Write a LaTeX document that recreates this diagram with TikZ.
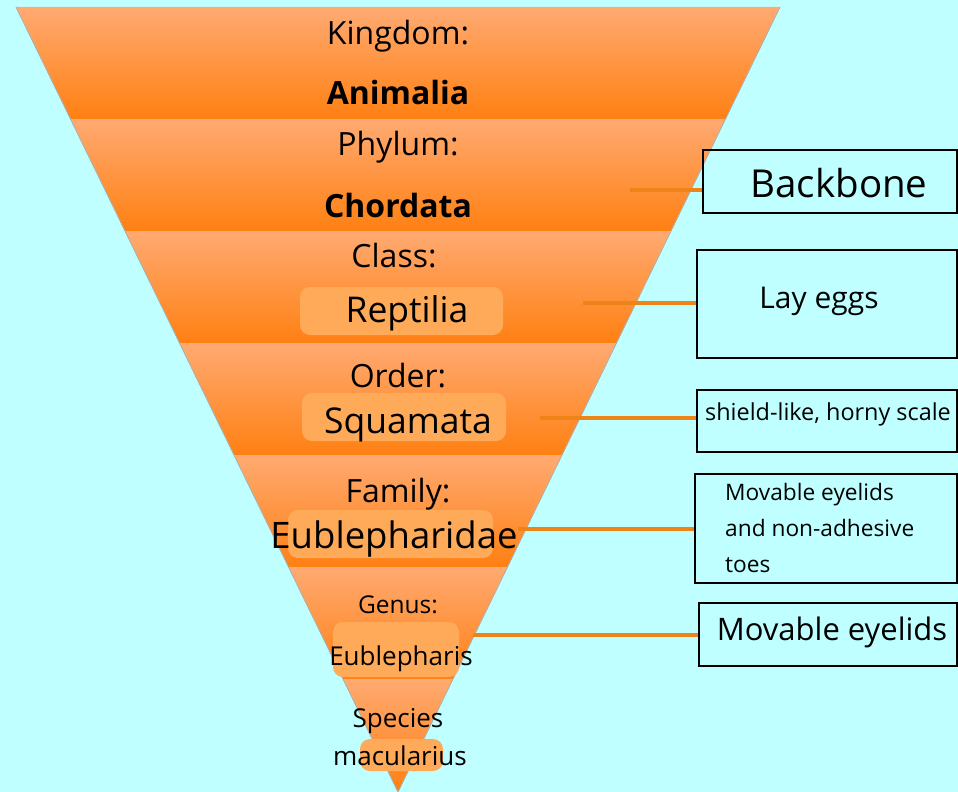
\documentclass[tikz,border=0pt]{standalone}
\usepackage{fontspec}
\setmainfont{Open Sans}
\usepackage{tikz}
\usetikzlibrary{positioning}
\usetikzlibrary{calc}
\definecolor{sky}{HTML}{C0FFFF}
\definecolor{bandtop}{HTML}{FFAA72}
\definecolor{bandmid}{HTML}{FF9C55}
\definecolor{bandbot}{HTML}{FF8012}
\definecolor{pillfill}{HTML}{FFAA58}
\definecolor{linkor}{HTML}{EE8418}
\tikzset{%
  rank/.style = {font=\fontsize{32}{36}\selectfont, anchor=base, inner sep=0pt},
  kname/.style = {font=\fontsize{32}{36}\selectfont\bfseries, anchor=base, inner sep=0pt},
  taxon/.style = {font=\fontsize{35.5}{38}\selectfont, anchor=base, inner sep=0pt},
  small/.style = {font=\fontsize{26}{30}\selectfont, anchor=base, inner sep=0pt},
  pill/.style = {rectangle, rounded corners=10pt, fill=pillfill, inner sep=0pt},
  note/.style = {rectangle, draw=black, line width=1.8pt, inner sep=0pt},
  notetext/.style = {font=\fontsize{22.7}{26}\selectfont, anchor=base west, inner sep=0pt},
  link/.style = {draw=linkor, line width=3.8pt}
}

\begin{document}
\begin{tikzpicture}[x=1pt, y=-1pt]
    \useasboundingbox (0,0) rectangle (958,792);
    \fill[sky] (0,0) rectangle (958,792);
    % the seven bands of the funnel
    \begin{scope}
        \clip (16,7) -- (780,7) -- (398,792) -- cycle;
        \foreach \k in {0,...,6}
            \fill[top color=bandtop, middle color=bandmid, bottom color=bandbot]
                (0,{7+112*\k}) rectangle (958,{7+112*(\k+1)});
    \end{scope}
    \draw[black!30, line width=0.8pt] (16,7) -- (398,792) -- (780,7);

    % pills behind the names
    \node[pill, minimum width=203, minimum height=48] (pclass) at (401.5,311) {};
    \node[pill, minimum width=204, minimum height=48] (porder) at (404,417) {};
    \node[pill, minimum width=205, minimum height=48] (pfamily) at (390.5,534) {};
    \node[pill, minimum width=126, minimum height=55] (pgenus) at (396,649.5) {};
    \node[pill, minimum width=83, minimum height=32] (pspecies) at (401.5,755) {};

    % ranks and names
    \node[rank] (kingdom) at (398,45) {Kingdom:};
    \node[kname] (animalia) at (398,104) {Animalia};
    \node[rank] (phylum) at (398,155) {Phylum:};
    \node[kname] (chordata) at (398,217) {Chordata};
    \node[rank] (class) at (394,267) {Class:};
    \node[taxon] (reptilia) at (407,322) {Reptilia};
    \node[rank] (order) at (398,387) {Order:};
    \node[taxon] (squamata) at (408,433) {Squamata};
    \node[rank] (family) at (398,502) {Family:};
    \node[taxon, font=\fontsize{36.5}{40}\selectfont] (eublepharidae) at (394,548) {Eublepharidae};
    \node[small, font=\fontsize{24.5}{28}\selectfont] (genus) at (398,613) {Genus:};
    \node[small] (eublepharis) at (401,665) {Eublepharis};
    \node[small] (species) at (398,727) {Species};
    \node[small] (macularius) at (400,765) {macularius};

    % boxes on the right
    \node[note, minimum width=254, minimum height=63] (backbone) at (830,181.5) {};
    \node[note, minimum width=260, minimum height=108] (layeggs) at (827,304) {};
    \node[note, minimum width=260, minimum height=62] (scale) at (827,421) {};
    \node[note, minimum width=262, minimum height=109] (toes) at (826,528.5) {};
    \node[note, minimum width=258, minimum height=63] (eyelids) at (828,634.5) {};

    \node[rank, font=\fontsize{38.5}{42}\selectfont] (tbackbone) at (839,197) {Backbone};
    \node[rank, font=\fontsize{30}{33}\selectfont] (tlayeggs) at (819,308) {Lay eggs};
    \node[notetext, font=\fontsize{23.4}{26}\selectfont] (tscale) at (705,420) {shield-like, horny scale};
    \node[notetext] (ttoes1) at (725,500) {Movable eyelids};
    \node[notetext] (ttoes2) at (725,536) {and non-adhesive};
    \node[notetext] (ttoes3) at (725,572) {toes};
    \node[rank, font=\fontsize{31}{34}\selectfont] (teyelids) at (832,640) {Movable eyelids};

    % connectors
    \coordinate (cphylum) at (630,190);
    \coordinate (cclass) at (583,303);
    \coordinate (corder) at (540,418);
    \coordinate (cfamily) at (518,529);
    \coordinate (cgenus) at (473,635);
    \draw[link] (cphylum) -- (cphylum -| backbone.west);
    \draw[link] (cclass) -- (cclass -| layeggs.west);
    \draw[link] (corder) -- (corder -| scale.west);
    \draw[link] (cfamily) -- (cfamily -| toes.west);
    \draw[link] (cgenus) -- (cgenus -| eyelids.west);
\end{tikzpicture}
\end{document}
